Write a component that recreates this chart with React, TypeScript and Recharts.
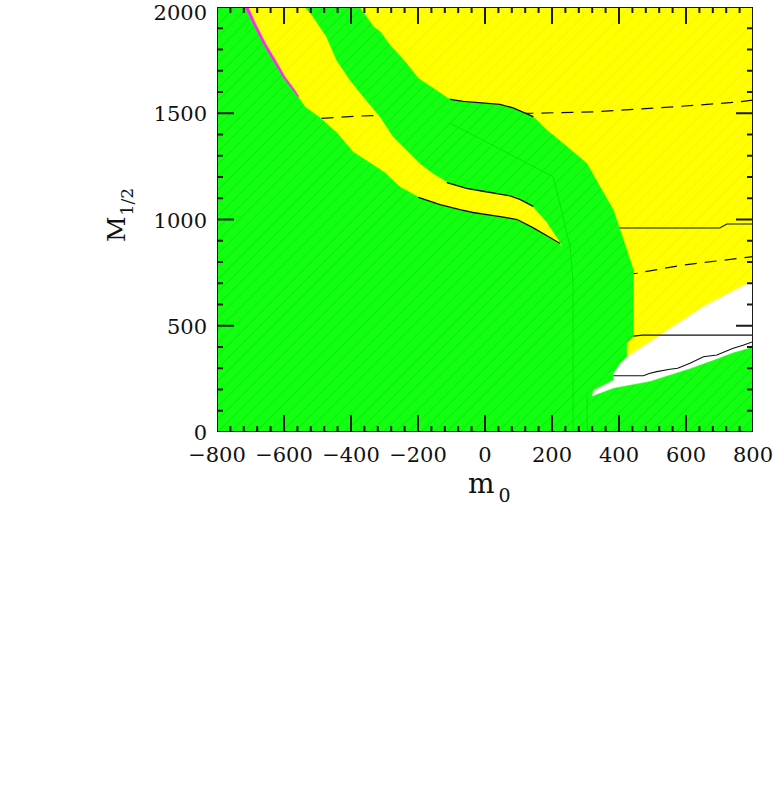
import { ScatterChart, Scatter, XAxis, YAxis, CartesianGrid } from 'recharts';

// axis ticks
const xMajor = [-800, -600, -400, -200, 0, 200, 400, 600, 800];
const yMajor = [0, 500, 1000, 1500, 2000];
const xMinorStep = 40;
const yMinorStep = 100;
const xRange = [-800, 800];
const yRange = [0, 2000];

// regions, [m0, M1/2] pairs
const whiteRegion = [
  [423, 352], [652, 590], [800, 712], [800, 414], [791, 394], [741, 372], [692, 342],
  [612, 297], [492, 237], [383, 205], [318, 166], [300, 150],
];
const greenLowerLeft = [
  [-800, 0], [-800, 2000], [-716, 2000], [-693, 1925], [-663, 1831], [-633, 1751],
  [-603, 1671], [-573, 1609], [-558, 1577], [-537, 1529], [-492, 1478], [-442, 1407],
  [-394, 1318], [-343, 1266], [-298, 1219], [-254, 1153], [-194, 1101], [-134, 1068],
  [-75, 1045], [-36, 1031], [45, 1012], [96, 998], [143, 960], [194, 913], [226, 880],
  [250, 700], [262, 0],
];
const greenBand = [
  [-537, 2000], [-375, 2000], [-333, 1907], [-313, 1884], [-284, 1821], [-239, 1743],
  [-199, 1664], [-154, 1617], [-110, 1570], [-65, 1554], [45, 1539], [84, 1523],
  [144, 1484], [184, 1421], [244, 1343], [304, 1264], [343, 1154], [383, 1045],
  [403, 951], [423, 856], [443, 762], [443, 449], [423, 417], [423, 354], [403, 323],
  [383, 276], [383, 245], [323, 198], [318, 166], [318, 0], [240, 0], [229, 880],
  [214, 919], [184, 990], [144, 1060], [95, 1107], [45, 1123], [-5, 1131], [-55, 1147],
  [-104, 1170], [-154, 1217], [-194, 1264], [-234, 1327], [-274, 1390], [-313, 1484],
  [-363, 1578], [-403, 1656], [-443, 1751], [-473, 1860], [-513, 1954],
];
const greenLowerRight = [
  [318, 166], [383, 205], [492, 237], [612, 297], [692, 342], [741, 372], [791, 394],
  [800, 414], [800, 0], [318, 0],
];
const magentaSliver = [
  [-716, 2000], [-707, 2000], [-686, 1925], [-656, 1831], [-626, 1751], [-597, 1671],
  [-568, 1609], [-557, 1582], [-558, 1577], [-573, 1609], [-603, 1671], [-633, 1751],
  [-663, 1831], [-693, 1925],
];

// contour lines
const dashedHigh = [
  [-488, 1476], [-373, 1487], [-200, 1493], [0, 1497], [143, 1500], [333, 1507],
  [492, 1523], [642, 1539], [761, 1554], [800, 1562],
];
const dashedLow = [[420, 740], [453, 747], [592, 786], [800, 825]];
const solidHigh = [[380, 960], [701, 960], [722, 979], [800, 979]];
const solidMid = [[430, 449], [470, 456], [800, 456]];
const solidLow = [
  [383, 265], [473, 265], [490, 275], [513, 284], [552, 295], [575, 300], [612, 323],
  [652, 354], [692, 362], [741, 394], [770, 408], [800, 425],
];
const edgeOuter = [[-104, 1565], [-65, 1556], [45, 1542], [84, 1525], [144, 1484]];
const edgeInner = [[-114, 1173], [-55, 1146], [-5, 1133], [75, 1111], [104, 1095], [144, 1062]];
const edgeLower = [
  [-199, 1104], [-134, 1070], [-75, 1047], [-36, 1033], [45, 1014], [96, 1000],
  [143, 962], [194, 915], [224, 887],
];
const greenContourA = [[-104, 1453], [204, 1201], [254, 872], [263, 700], [263, 0]];
const greenContourB = [[305, 166], [305, 0]];

const toPts = (a: number[][]) => a.map(([x, y]) => ({ x, y }));

const minorTicks = (major: number[], step: number) => {
  const out: number[] = [];
  for (let v = major[0]; v <= major[major.length - 1]; v += step) out.push(v);
  return out;
};
const xTicks = minorTicks(xMajor, xMinorStep);
const yTicks = minorTicks(yMajor, yMinorStep);

// plot box size in px, used to turn tick lengths into data units
const PLOT_W = 536;
const PLOT_H = 425;
const xPerPx = (xRange[1] - xRange[0]) / PLOT_W;
const yPerPx = (yRange[1] - yRange[0]) / PLOT_H;
const tickPx = (major: boolean) => (major ? 17 : 6);

// inward ticks as comb-shaped polylines: along the edge, in to the tip, back out
const combX = (edge: number, dir: number) =>
  xTicks.flatMap((x) => {
    const l = tickPx(xMajor.includes(x)) * yPerPx * dir;
    return [[x, edge], [x, edge + l], [x, edge]];
  });
const combY = (edge: number, dir: number) =>
  yTicks.flatMap((y) => {
    const l = tickPx(yMajor.includes(y)) * xPerPx * dir;
    return [[edge, y], [edge + l, y], [edge, y]];
  });
const frame = [[xRange[0], yRange[0]], [xRange[0], yRange[1]], [xRange[1], yRange[1]], [xRange[1], yRange[0]]];

const FONT = '"DejaVu Serif", serif';
const INK = '#1a1a1a';
const fmt = (v: number) => (v < 0 ? `\u2212${Math.abs(v)}` : `${v}`);

const empty = () => <g />;

function polygon(key: string, data: number[][], fill: string, stroke: string, width = 0.6) {
  return (
    <Scatter
      key={key}
      data={toPts(data)}
      fill={stroke}
      shape={empty}
      line={{ fill, stroke, strokeWidth: width }}
      lineType="joint"
      lineJointType="linearClosed"
      isAnimationActive={false}
    />
  );
}

function polyline(key: string, data: number[][], stroke: string, width: number, dash?: string) {
  return (
    <Scatter
      key={key}
      data={toPts(data)}
      fill={stroke}
      shape={empty}
      line={{ stroke, strokeWidth: width, strokeDasharray: dash, fill: 'none' }}
      lineType="joint"
      lineJointType="linear"
      isAnimationActive={false}
    />
  );
}

const bottomLabel = (p: any) => {
  const v = p.payload.value;
  if (!xMajor.includes(v)) return <g />;
  return (
    <text x={p.x} y={p.y + 30} textAnchor="middle" fontFamily={FONT} fontSize={21} fill="#111">
      {fmt(v)}
    </text>
  );
};
const leftLabel = (p: any) => {
  const v = p.payload.value;
  if (!yMajor.includes(v)) return <g />;
  return (
    <text x={p.x - 10} y={Math.max(p.y + 8, 19.5)} textAnchor="end" fontFamily={FONT} fontSize={21} fill="#111">
      {fmt(v)}
    </text>
  );
};

export default function App() {
  return (
    <div style={{ position: 'absolute', left: 0, top: 0, width: 774, height: 790, background: '#fff' }}>
      <ScatterChart width={774} height={520} margin={{ top: 7, right: 21, bottom: 28, left: 137 }}>
        <defs>
          <pattern id="hatchG" patternUnits="userSpaceOnUse" width="9" height="9" patternTransform="rotate(45)">
            <rect width="9" height="9" fill="#12ff12" />
            <line x1="0" y1="0" x2="0" y2="9" stroke="#06e006" strokeWidth="1.2" />
          </pattern>
          <pattern id="hatchY" patternUnits="userSpaceOnUse" width="9" height="9" patternTransform="rotate(45)">
            <rect width="9" height="9" fill="#ffff00" />
            <line x1="0" y1="0" x2="0" y2="9" stroke="#f4f000" strokeWidth="1.2" />
          </pattern>
        </defs>
        <CartesianGrid fill="url(#hatchY)" horizontal={false} vertical={false} />

        <XAxis
          type="number"
          dataKey="x"
          domain={xRange}
          ticks={xTicks}
          interval={0}
          allowDataOverflow
          height={60}
          tickSize={0}
          tickMargin={0}
          tickLine={false}
          axisLine={false}
          tick={bottomLabel}
        />
        <YAxis
          type="number"
          dataKey="y"
          domain={yRange}
          ticks={yTicks}
          interval={0}
          allowDataOverflow
          width={80}
          tickSize={0}
          tickMargin={0}
          tickLine={false}
          axisLine={false}
          tick={leftLabel}
        />

        {polygon('white', whiteRegion, '#ffffff', '#ffffff')}
        {polyline('dashedHigh', dashedHigh, '#111', 1.2, '12 8')}
        {polyline('dashedLow', dashedLow, '#111', 1.2, '12 8')}
        {polyline('solidHigh', solidHigh, '#111', 1.1)}
        {polyline('solidMid', solidMid, '#111', 1.1)}
        {polyline('solidLow', solidLow, '#111', 1.1)}

        {polygon('greenLL', greenLowerLeft, 'url(#hatchG)', '#12ff12')}
        {polygon('greenBand', greenBand, 'url(#hatchG)', '#12ff12')}
        {polygon('greenLR', greenLowerRight, 'url(#hatchG)', '#12ff12')}
        {polyline('contourA', greenContourA, '#05e505', 1)}
        {polyline('contourB', greenContourB, '#05e505', 1)}
        {polygon('magenta', magentaSliver, '#ff22ff', '#ff22ff')}

        {polyline('edgeOuter', edgeOuter, '#111', 1.3)}
        {polyline('edgeInner', edgeInner, '#111', 1.3)}
        {polyline('edgeLower', edgeLower, '#111', 1.3)}

        {polyline('ticksBottom', combX(yRange[0], 1), INK, 2)}
        {polyline('ticksTop', combX(yRange[1], -1), INK, 2)}
        {polyline('ticksLeft', combY(xRange[0], 1), INK, 2)}
        {polyline('ticksRight', combY(xRange[1], -1), INK, 2)}
        {polygon('frame', frame, 'none', INK, 2)}

        <text x={468} y={493} fontFamily={FONT} fontSize={28} fill="#111">
          m
          <tspan dx={4} dy={9} fontSize={19}>0</tspan>
        </text>
        <text transform="translate(125,242) rotate(-90)" fontFamily={FONT} fontSize={25} fill="#111">
          M
          <tspan dx={1} dy={8} fontSize={17}>1/2</tspan>
        </text>
      </ScatterChart>
    </div>
  );
}
